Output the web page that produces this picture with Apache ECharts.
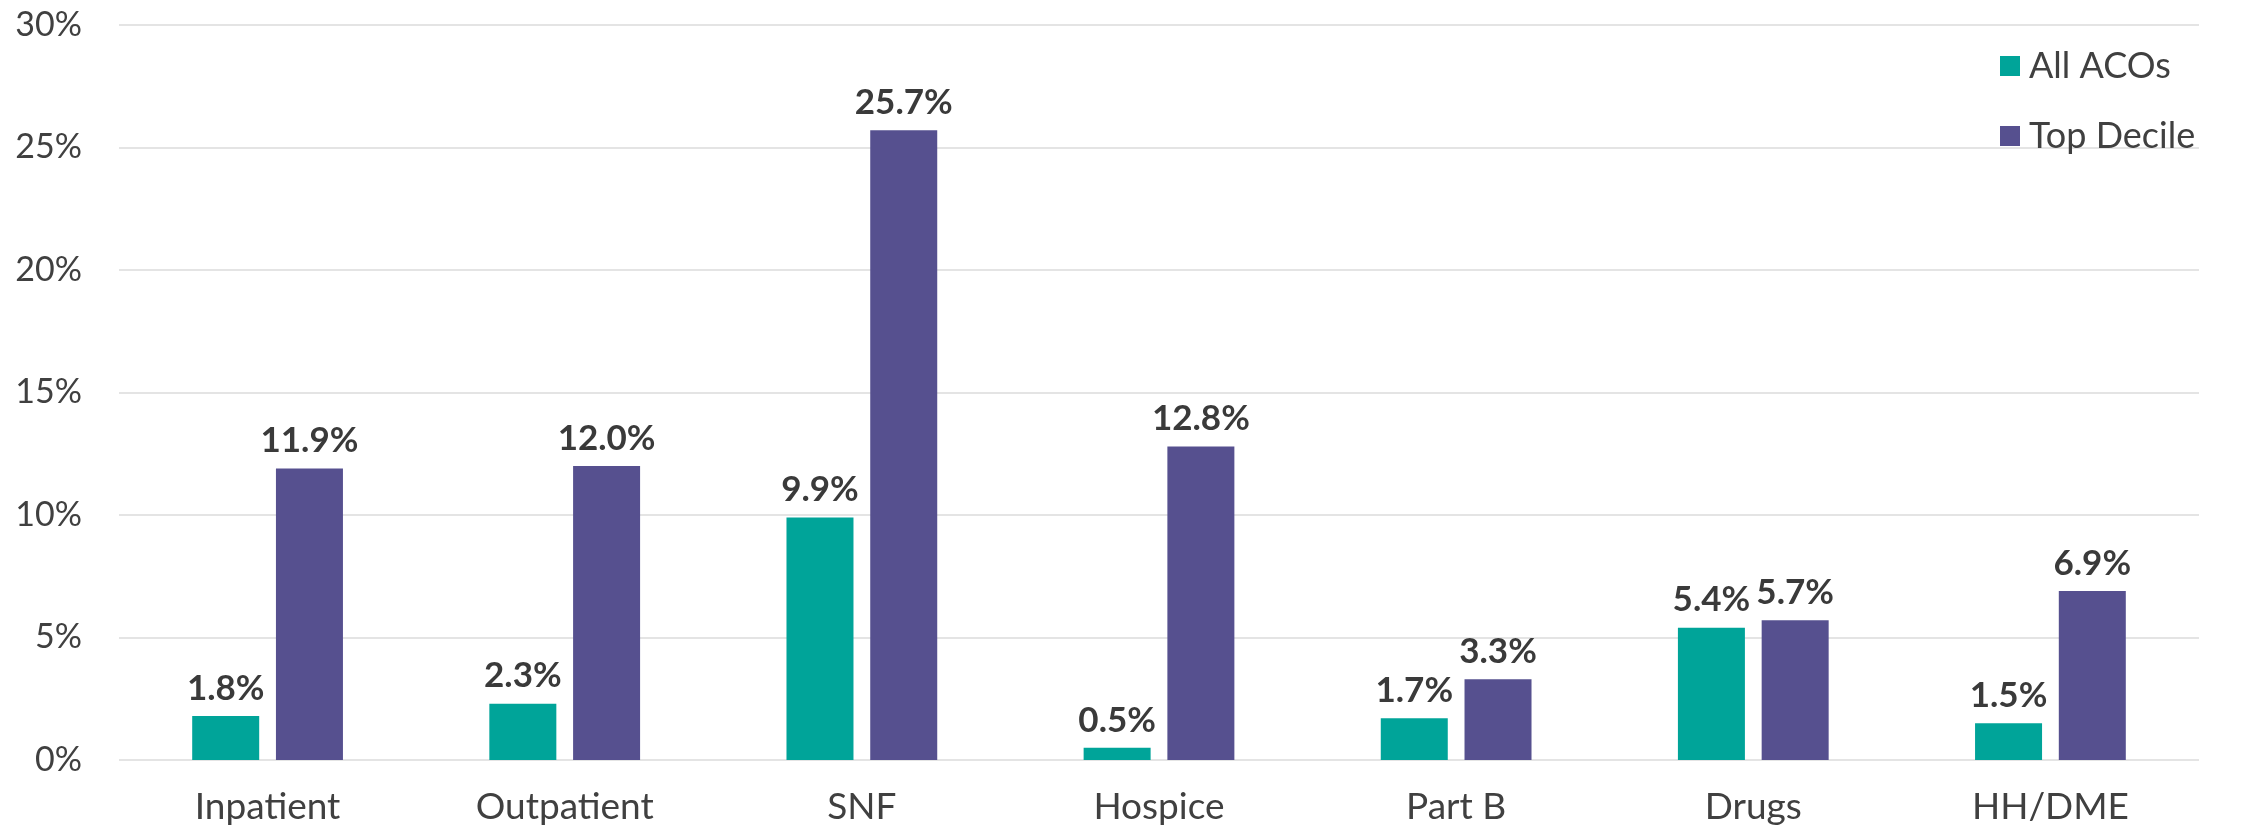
<!DOCTYPE html>
<html><head><meta charset="utf-8">
<script src="https://cdn.jsdelivr.net/npm/echarts@6/dist/echarts.min.js"></script>
<style>html,body{margin:0;padding:0;background:#fff}#c{width:2244px;height:826px}</style>
</head><body><div id="c"></div>
<script>
const categories = ['Inpatient','Outpatient','SNF','Hospice','Part B','Drugs','HH/DME'];
const allACOs = [1.8, 2.3, 9.9, 0.5, 1.7, 5.4, 1.5];
const topDecile = [11.9, 12.0, 25.7, 12.8, 3.3, 5.7, 6.9];
const seriesNames = ['All ACOs','Top Decile'];
const FONT = 'Lato, "Open Sans", sans-serif';
const chart = echarts.init(document.getElementById('c'));
const lbl = {show:true, position:'top', distance:10, fontFamily:FONT, fontWeight:'bold', fontSize:35, color:'#3a3a3a', formatter: p => p.value.toFixed(1)+'%'};
chart.setOption({
  animation:false,
  grid:{left:119, right:45, top:25, bottom:66},
  legend:{orient:'vertical', left:2000, top:48, padding:0, itemWidth:20, itemHeight:20, itemGap:34, icon:'rect',
    textStyle:{fontFamily:FONT, fontSize:36, color:'#404040', padding:[0,0,0,4]}, data:seriesNames},
  xAxis:{type:'category', data:categories, axisLine:{show:false}, axisTick:{show:false},
    axisLabel:{fontFamily:FONT, fontSize:37, color:'#404040', margin:29}},
  yAxis:{type:'value', min:0, max:30, interval:5, axisLine:{show:false}, axisTick:{show:false},
    axisLabel:{fontFamily:FONT, fontSize:34, color:'#404040', margin:37, formatter:'{value}%'},
    splitLine:{lineStyle:{color:'#e4e4e4', width:2}}},
  series:[
    {name:seriesNames[0], type:'bar', data:allACOs, barWidth:67, barGap:'25%', itemStyle:{color:'#00a499'}, label:lbl},
    {name:seriesNames[1], type:'bar', data:topDecile, barWidth:67, itemStyle:{color:'#56508f'}, label:lbl}
  ]
});
</script></body></html>
